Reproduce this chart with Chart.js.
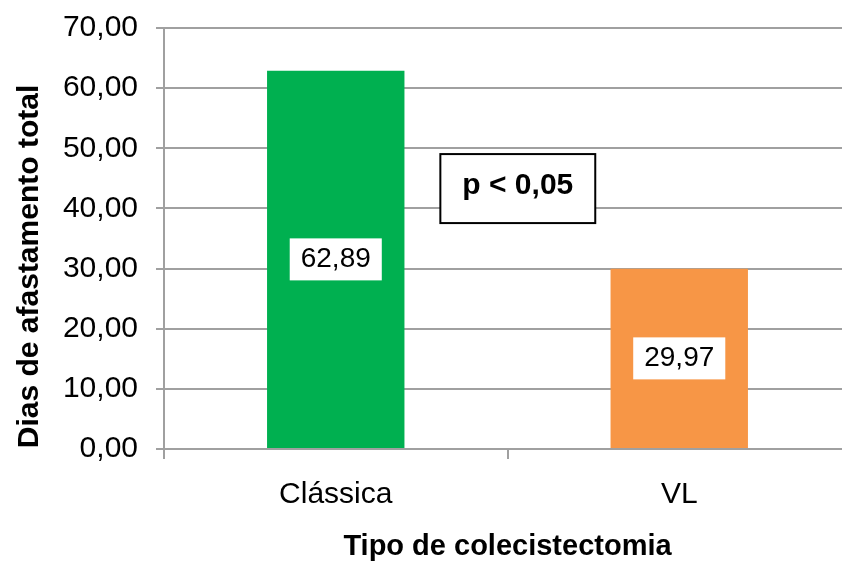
<!DOCTYPE html>
<html>
<head>
<meta charset="utf-8">
<script src="https://cdn.jsdelivr.net/npm/chart.js@4/dist/chart.umd.min.js"></script>
<style>
  html, body { margin: 0; padding: 0; background: #fff; overflow: hidden; width: 842px; height: 561px; }
  #wrap { width: 852px; height: 561px; }
</style>
</head>
<body>
<div id="wrap"><canvas id="c" width="852" height="561"></canvas></div>
<script>
// Days off work by type of cholecystectomy
const categories = ['Clássica', 'VL'];
const values = [62.89, 29.97];
const barColors = ['#00B050', '#F79646'];
const yTicks = [0, 10, 20, 30, 40, 50, 60, 70];
const yTitle = 'Dias de afastamento total';
const xTitle = 'Tipo de colecistectomia';
const pNote = 'p < 0,05';
const pNoteAt = { x: 0.53, y: 43.3 };

const FONT = '"Liberation Sans", Arial, sans-serif';
const GRID = '#a0a0a0';
const fmt = v => v.toFixed(2).replace('.', ',');

// White boxed value label in the middle of each bar
const valueBoxes = {
  id: 'valueBoxes',
  afterDatasetsDraw(chart) {
    const ctx = chart.ctx;
    const meta = chart.getDatasetMeta(0);
    ctx.save();
    ctx.font = '28px ' + FONT;
    ctx.textAlign = 'center';
    ctx.textBaseline = 'alphabetic';
    meta.data.forEach((bar, i) => {
      const txt = fmt(chart.data.datasets[0].data[i]);
      const cx = bar.x;
      const cy = (bar.y + bar.base) / 2;
      const w = ctx.measureText(txt).width + 22;
      const h = 42;
      ctx.fillStyle = '#fff';
      ctx.fillRect(cx - w / 2, cy - h / 2, w, h);
      ctx.fillStyle = '#000';
      ctx.fillText(txt, cx, cy + 8);
    });
    ctx.restore();
  }
};

// Significance note box and vertical axis title
const extras = {
  id: 'extras',
  afterDraw(chart) {
    const ctx = chart.ctx;
    const { x, y } = chart.scales;
    const area = chart.chartArea;
    ctx.save();
    // p-value box
    ctx.font = 'bold 30px ' + FONT;
    const tw = ctx.measureText(pNote).width;
    const bw = tw + 44, bh = 69;
    const bx = x.getPixelForValue(pNoteAt.x), by = y.getPixelForValue(pNoteAt.y);
    ctx.fillStyle = '#fff';
    ctx.fillRect(bx - bw / 2, by - bh / 2, bw, bh);
    ctx.strokeStyle = '#000';
    ctx.lineWidth = 2;
    ctx.strokeRect(bx - bw / 2, by - bh / 2, bw, bh);
    ctx.fillStyle = '#000';
    ctx.textAlign = 'center';
    ctx.textBaseline = 'alphabetic';
    ctx.fillText(pNote, bx, by + 5);
    // y axis title
    ctx.font = 'bold 30px ' + FONT;
    ctx.textBaseline = 'middle';
    ctx.translate(30, (area.top + area.bottom) / 2 + 28);
    ctx.rotate(-Math.PI / 2);
    ctx.fillText(yTitle, 0, 0);
    ctx.restore();
  }
};

new Chart(document.getElementById('c'), {
  type: 'bar',
  data: {
    labels: categories,
    datasets: [{
      data: values,
      backgroundColor: barColors,
      borderWidth: 0,
      barPercentage: 0.4,
      categoryPercentage: 1.0
    }]
  },
  options: {
    responsive: false,
    animation: false,
    devicePixelRatio: 1,
    layout: { padding: { top: 28, right: 1, left: 0, bottom: 0 } },
    plugins: { legend: { display: false }, tooltip: { enabled: false } },
    scales: {
      y: {
        min: 0, max: 70,
        afterBuildTicks: s => { s.ticks = yTicks.map(v => ({ value: v })); },
        afterFit: s => { s.width = 164; s.paddingTop = 0; s.paddingBottom = 0; },
        ticks: { callback: v => fmt(v), font: { family: FONT, size: 30 }, color: '#000', padding: 18 },
        grid: { color: GRID, lineWidth: 2, tickLength: 8, drawTicks: true },
        border: { color: GRID, width: 2 }
      },
      x: {
        afterFit: s => { s.height = 112; s.paddingLeft = 0; s.paddingRight = 0; },
        ticks: { font: { family: FONT, size: 30 }, color: '#000', padding: 18 },
        grid: { offset: true, drawOnChartArea: false, drawTicks: true, tickLength: 10, color: GRID, lineWidth: 2 },
        border: { color: GRID, width: 2 },
        title: { display: true, text: xTitle, color: '#000',
                 font: { family: FONT, size: 29, weight: 'bold', lineHeight: 0.95 }, padding: { top: 0, bottom: 0 } }
      }
    }
  },
  plugins: [valueBoxes, extras]
});
</script>
</body>
</html>
